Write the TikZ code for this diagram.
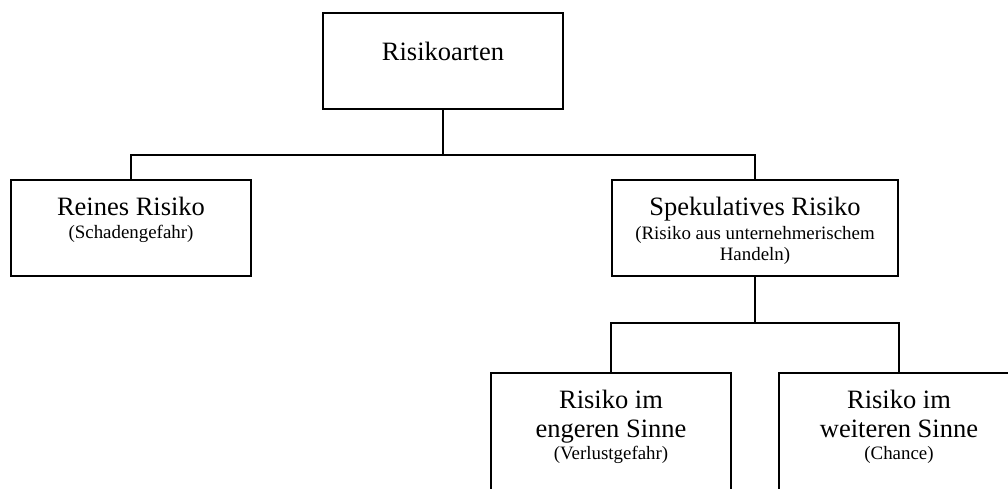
\documentclass[tikz,border=0pt]{standalone}
\usepackage{fontspec}
\setmainfont{Liberation Serif}
\usetikzlibrary{positioning}

% 大きい文字 (見出し)
\newcommand{\Gross}[1]{{\fontsize{26.5}{31}\selectfont #1}}

\begin{document}
\begin{tikzpicture}[x=1pt,y=-1pt,
  kasten/.style={draw, line width=1.8pt, minimum width=240pt, minimum height=96pt, anchor=north, inner sep=0pt},
  inhalt/.style={align=center, inner sep=0pt, font=\fontsize{18.9}{21}\selectfont},
  verbindung/.style={line width=1.6pt}]
  % 画像と同じ大きさ (1px = 1pt)
  \useasboundingbox (0,0) rectangle (1008,488);
  \clip (0,0) rectangle (1008,488);

  % 枠
  \node[kasten] (risikoarten) at (443,12) {};
  \node[kasten] (reines) at (131,179) {};
  \node[kasten, minimum width=286pt] (spekulativ) at (755,179) {};
  \node[kasten, minimum height=150pt] (engerer) at (611,372) {};
  \node[kasten, minimum height=150pt] (weiterer) at (899,372) {};

  % 文字
  \node[inhalt, below=30pt of risikoarten.north] (risikoartenText) {\Gross{Risikoarten}};
  \node[inhalt, below=18pt of reines.north] (reinesText)
    {\Gross{Reines Risiko}\\[2pt](Schadengefahr)};
  \node[inhalt, below=18pt of spekulativ.north] (spekulativText)
    {\Gross{Spekulatives Risiko}\\[3pt](Risiko aus unternehmerischem\\Handeln)};
  \node[inhalt, below=18pt of engerer.north] (engererText)
    {\Gross{Risiko im}\\[8pt]\Gross{engeren Sinne}\\[1pt](Verlustgefahr)};
  \node[inhalt, below=18pt of weiterer.north] (weitererText)
    {\Gross{Risiko im}\\[8pt]\Gross{weiteren Sinne}\\[1pt](Chance)};

  % 線
  \coordinate (oben) at (443,155);
  \coordinate (unten) at (755,323);
  \draw[verbindung] (risikoarten.south) -- (oben);
  \draw[verbindung] (reines.north) |- (oben) -| (spekulativ.north);
  \draw[verbindung] (spekulativ.south) -- (unten);
  \draw[verbindung] (engerer.north) |- (unten) -| (weiterer.north);
\end{tikzpicture}
\end{document}
